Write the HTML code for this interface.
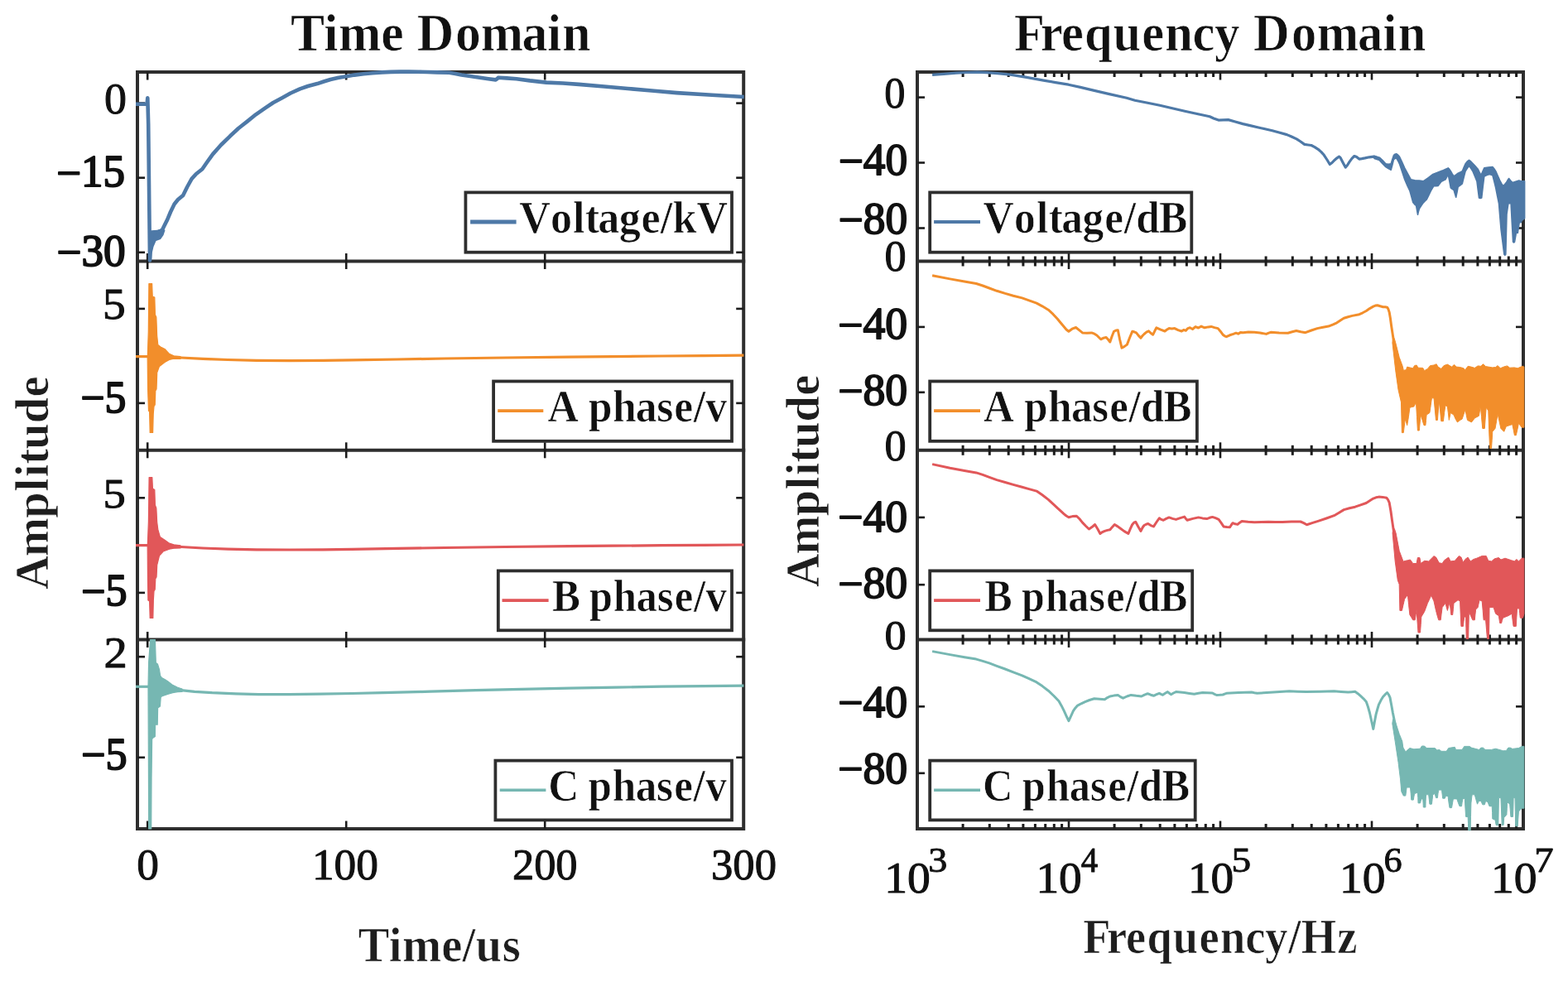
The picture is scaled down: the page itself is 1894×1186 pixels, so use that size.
<!DOCTYPE html>
<html lang="en">
<head>
<meta charset="utf-8">
<title>Time Domain and Frequency Domain</title>
<style>
html,body{margin:0;padding:0;background:#fff;}
body{width:1894px;height:1186px;overflow:hidden;}
svg{display:block;filter:blur(0.65px);}
svg text{font-family:"Liberation Serif","DejaVu Serif",serif;stroke-linejoin:round;}
</style>
</head>
<body>
<svg width="1894" height="1186" viewBox="0 0 1894 1186">
<rect x="0" y="0" width="1894" height="1186" fill="#ffffff"/>
<g id="axes">
<g fill="none" stroke="#2e2e2e" stroke-width="4.0" stroke-linecap="square">
<rect x="166.0" y="87.0" width="732.2" height="914.0"/>
<line x1="166.0" y1="315.5" x2="898.2" y2="315.5"/>
<line x1="166.0" y1="543.8" x2="898.2" y2="543.8"/>
<line x1="166.0" y1="772.5" x2="898.2" y2="772.5"/>
</g>
<g fill="none" stroke="#2e2e2e" stroke-width="4.0" stroke-linecap="square">
<rect x="1108.0" y="87.0" width="732.0" height="914.0"/>
<line x1="1108.0" y1="315.5" x2="1840.0" y2="315.5"/>
<line x1="1108.0" y1="543.8" x2="1840.0" y2="543.8"/>
<line x1="1108.0" y1="772.5" x2="1840.0" y2="772.5"/>
</g>
<g stroke="#1c1c1c" stroke-width="2.60">
<line x1="178.2" y1="87.0" x2="178.2" y2="96.5"/>
<line x1="178.2" y1="306.0" x2="178.2" y2="325.0"/>
<line x1="178.2" y1="534.3" x2="178.2" y2="553.3"/>
<line x1="178.2" y1="763.0" x2="178.2" y2="782.0"/>
<line x1="178.2" y1="991.5" x2="178.2" y2="1001.0"/>
<line x1="418.2" y1="87.0" x2="418.2" y2="96.5"/>
<line x1="418.2" y1="306.0" x2="418.2" y2="325.0"/>
<line x1="418.2" y1="534.3" x2="418.2" y2="553.3"/>
<line x1="418.2" y1="763.0" x2="418.2" y2="782.0"/>
<line x1="418.2" y1="991.5" x2="418.2" y2="1001.0"/>
<line x1="658.2" y1="87.0" x2="658.2" y2="96.5"/>
<line x1="658.2" y1="306.0" x2="658.2" y2="325.0"/>
<line x1="658.2" y1="534.3" x2="658.2" y2="553.3"/>
<line x1="658.2" y1="763.0" x2="658.2" y2="782.0"/>
<line x1="658.2" y1="991.5" x2="658.2" y2="1001.0"/>
</g>
<g stroke="#1c1c1c" stroke-width="2.60">
<line x1="166.0" y1="124.6" x2="175.0" y2="124.6"/>
<line x1="889.2" y1="124.6" x2="898.2" y2="124.6"/>
<line x1="166.0" y1="214.7" x2="175.0" y2="214.7"/>
<line x1="889.2" y1="214.7" x2="898.2" y2="214.7"/>
<line x1="166.0" y1="304.8" x2="175.0" y2="304.8"/>
<line x1="889.2" y1="304.8" x2="898.2" y2="304.8"/>
<line x1="166.0" y1="372.9" x2="175.0" y2="372.9"/>
<line x1="889.2" y1="372.9" x2="898.2" y2="372.9"/>
<line x1="166.0" y1="486.9" x2="175.0" y2="486.9"/>
<line x1="889.2" y1="486.9" x2="898.2" y2="486.9"/>
<line x1="166.0" y1="601.3" x2="175.0" y2="601.3"/>
<line x1="889.2" y1="601.3" x2="898.2" y2="601.3"/>
<line x1="166.0" y1="715.9" x2="175.0" y2="715.9"/>
<line x1="889.2" y1="715.9" x2="898.2" y2="715.9"/>
<line x1="166.0" y1="793.2" x2="175.0" y2="793.2"/>
<line x1="889.2" y1="793.2" x2="898.2" y2="793.2"/>
<line x1="166.0" y1="914.8" x2="175.0" y2="914.8"/>
<line x1="889.2" y1="914.8" x2="898.2" y2="914.8"/>
</g>
<g stroke="#1c1c1c" stroke-width="3.00">
<line x1="1163.1" y1="87.0" x2="1163.1" y2="93.0"/>
<line x1="1163.1" y1="309.5" x2="1163.1" y2="321.5"/>
<line x1="1163.1" y1="537.8" x2="1163.1" y2="549.8"/>
<line x1="1163.1" y1="766.5" x2="1163.1" y2="778.5"/>
<line x1="1163.1" y1="995.0" x2="1163.1" y2="1001.0"/>
<line x1="1195.3" y1="87.0" x2="1195.3" y2="93.0"/>
<line x1="1195.3" y1="309.5" x2="1195.3" y2="321.5"/>
<line x1="1195.3" y1="537.8" x2="1195.3" y2="549.8"/>
<line x1="1195.3" y1="766.5" x2="1195.3" y2="778.5"/>
<line x1="1195.3" y1="995.0" x2="1195.3" y2="1001.0"/>
<line x1="1218.2" y1="87.0" x2="1218.2" y2="93.0"/>
<line x1="1218.2" y1="309.5" x2="1218.2" y2="321.5"/>
<line x1="1218.2" y1="537.8" x2="1218.2" y2="549.8"/>
<line x1="1218.2" y1="766.5" x2="1218.2" y2="778.5"/>
<line x1="1218.2" y1="995.0" x2="1218.2" y2="1001.0"/>
<line x1="1235.9" y1="87.0" x2="1235.9" y2="93.0"/>
<line x1="1235.9" y1="309.5" x2="1235.9" y2="321.5"/>
<line x1="1235.9" y1="537.8" x2="1235.9" y2="549.8"/>
<line x1="1235.9" y1="766.5" x2="1235.9" y2="778.5"/>
<line x1="1235.9" y1="995.0" x2="1235.9" y2="1001.0"/>
<line x1="1250.4" y1="87.0" x2="1250.4" y2="93.0"/>
<line x1="1250.4" y1="309.5" x2="1250.4" y2="321.5"/>
<line x1="1250.4" y1="537.8" x2="1250.4" y2="549.8"/>
<line x1="1250.4" y1="766.5" x2="1250.4" y2="778.5"/>
<line x1="1250.4" y1="995.0" x2="1250.4" y2="1001.0"/>
<line x1="1262.7" y1="87.0" x2="1262.7" y2="93.0"/>
<line x1="1262.7" y1="309.5" x2="1262.7" y2="321.5"/>
<line x1="1262.7" y1="537.8" x2="1262.7" y2="549.8"/>
<line x1="1262.7" y1="766.5" x2="1262.7" y2="778.5"/>
<line x1="1262.7" y1="995.0" x2="1262.7" y2="1001.0"/>
<line x1="1273.3" y1="87.0" x2="1273.3" y2="93.0"/>
<line x1="1273.3" y1="309.5" x2="1273.3" y2="321.5"/>
<line x1="1273.3" y1="537.8" x2="1273.3" y2="549.8"/>
<line x1="1273.3" y1="766.5" x2="1273.3" y2="778.5"/>
<line x1="1273.3" y1="995.0" x2="1273.3" y2="1001.0"/>
<line x1="1282.6" y1="87.0" x2="1282.6" y2="93.0"/>
<line x1="1282.6" y1="309.5" x2="1282.6" y2="321.5"/>
<line x1="1282.6" y1="537.8" x2="1282.6" y2="549.8"/>
<line x1="1282.6" y1="766.5" x2="1282.6" y2="778.5"/>
<line x1="1282.6" y1="995.0" x2="1282.6" y2="1001.0"/>
<line x1="1346.1" y1="87.0" x2="1346.1" y2="93.0"/>
<line x1="1346.1" y1="309.5" x2="1346.1" y2="321.5"/>
<line x1="1346.1" y1="537.8" x2="1346.1" y2="549.8"/>
<line x1="1346.1" y1="766.5" x2="1346.1" y2="778.5"/>
<line x1="1346.1" y1="995.0" x2="1346.1" y2="1001.0"/>
<line x1="1378.3" y1="87.0" x2="1378.3" y2="93.0"/>
<line x1="1378.3" y1="309.5" x2="1378.3" y2="321.5"/>
<line x1="1378.3" y1="537.8" x2="1378.3" y2="549.8"/>
<line x1="1378.3" y1="766.5" x2="1378.3" y2="778.5"/>
<line x1="1378.3" y1="995.0" x2="1378.3" y2="1001.0"/>
<line x1="1401.2" y1="87.0" x2="1401.2" y2="93.0"/>
<line x1="1401.2" y1="309.5" x2="1401.2" y2="321.5"/>
<line x1="1401.2" y1="537.8" x2="1401.2" y2="549.8"/>
<line x1="1401.2" y1="766.5" x2="1401.2" y2="778.5"/>
<line x1="1401.2" y1="995.0" x2="1401.2" y2="1001.0"/>
<line x1="1418.9" y1="87.0" x2="1418.9" y2="93.0"/>
<line x1="1418.9" y1="309.5" x2="1418.9" y2="321.5"/>
<line x1="1418.9" y1="537.8" x2="1418.9" y2="549.8"/>
<line x1="1418.9" y1="766.5" x2="1418.9" y2="778.5"/>
<line x1="1418.9" y1="995.0" x2="1418.9" y2="1001.0"/>
<line x1="1433.4" y1="87.0" x2="1433.4" y2="93.0"/>
<line x1="1433.4" y1="309.5" x2="1433.4" y2="321.5"/>
<line x1="1433.4" y1="537.8" x2="1433.4" y2="549.8"/>
<line x1="1433.4" y1="766.5" x2="1433.4" y2="778.5"/>
<line x1="1433.4" y1="995.0" x2="1433.4" y2="1001.0"/>
<line x1="1445.7" y1="87.0" x2="1445.7" y2="93.0"/>
<line x1="1445.7" y1="309.5" x2="1445.7" y2="321.5"/>
<line x1="1445.7" y1="537.8" x2="1445.7" y2="549.8"/>
<line x1="1445.7" y1="766.5" x2="1445.7" y2="778.5"/>
<line x1="1445.7" y1="995.0" x2="1445.7" y2="1001.0"/>
<line x1="1456.3" y1="87.0" x2="1456.3" y2="93.0"/>
<line x1="1456.3" y1="309.5" x2="1456.3" y2="321.5"/>
<line x1="1456.3" y1="537.8" x2="1456.3" y2="549.8"/>
<line x1="1456.3" y1="766.5" x2="1456.3" y2="778.5"/>
<line x1="1456.3" y1="995.0" x2="1456.3" y2="1001.0"/>
<line x1="1465.6" y1="87.0" x2="1465.6" y2="93.0"/>
<line x1="1465.6" y1="309.5" x2="1465.6" y2="321.5"/>
<line x1="1465.6" y1="537.8" x2="1465.6" y2="549.8"/>
<line x1="1465.6" y1="766.5" x2="1465.6" y2="778.5"/>
<line x1="1465.6" y1="995.0" x2="1465.6" y2="1001.0"/>
<line x1="1529.1" y1="87.0" x2="1529.1" y2="93.0"/>
<line x1="1529.1" y1="309.5" x2="1529.1" y2="321.5"/>
<line x1="1529.1" y1="537.8" x2="1529.1" y2="549.8"/>
<line x1="1529.1" y1="766.5" x2="1529.1" y2="778.5"/>
<line x1="1529.1" y1="995.0" x2="1529.1" y2="1001.0"/>
<line x1="1561.3" y1="87.0" x2="1561.3" y2="93.0"/>
<line x1="1561.3" y1="309.5" x2="1561.3" y2="321.5"/>
<line x1="1561.3" y1="537.8" x2="1561.3" y2="549.8"/>
<line x1="1561.3" y1="766.5" x2="1561.3" y2="778.5"/>
<line x1="1561.3" y1="995.0" x2="1561.3" y2="1001.0"/>
<line x1="1584.2" y1="87.0" x2="1584.2" y2="93.0"/>
<line x1="1584.2" y1="309.5" x2="1584.2" y2="321.5"/>
<line x1="1584.2" y1="537.8" x2="1584.2" y2="549.8"/>
<line x1="1584.2" y1="766.5" x2="1584.2" y2="778.5"/>
<line x1="1584.2" y1="995.0" x2="1584.2" y2="1001.0"/>
<line x1="1601.9" y1="87.0" x2="1601.9" y2="93.0"/>
<line x1="1601.9" y1="309.5" x2="1601.9" y2="321.5"/>
<line x1="1601.9" y1="537.8" x2="1601.9" y2="549.8"/>
<line x1="1601.9" y1="766.5" x2="1601.9" y2="778.5"/>
<line x1="1601.9" y1="995.0" x2="1601.9" y2="1001.0"/>
<line x1="1616.4" y1="87.0" x2="1616.4" y2="93.0"/>
<line x1="1616.4" y1="309.5" x2="1616.4" y2="321.5"/>
<line x1="1616.4" y1="537.8" x2="1616.4" y2="549.8"/>
<line x1="1616.4" y1="766.5" x2="1616.4" y2="778.5"/>
<line x1="1616.4" y1="995.0" x2="1616.4" y2="1001.0"/>
<line x1="1628.7" y1="87.0" x2="1628.7" y2="93.0"/>
<line x1="1628.7" y1="309.5" x2="1628.7" y2="321.5"/>
<line x1="1628.7" y1="537.8" x2="1628.7" y2="549.8"/>
<line x1="1628.7" y1="766.5" x2="1628.7" y2="778.5"/>
<line x1="1628.7" y1="995.0" x2="1628.7" y2="1001.0"/>
<line x1="1639.3" y1="87.0" x2="1639.3" y2="93.0"/>
<line x1="1639.3" y1="309.5" x2="1639.3" y2="321.5"/>
<line x1="1639.3" y1="537.8" x2="1639.3" y2="549.8"/>
<line x1="1639.3" y1="766.5" x2="1639.3" y2="778.5"/>
<line x1="1639.3" y1="995.0" x2="1639.3" y2="1001.0"/>
<line x1="1648.6" y1="87.0" x2="1648.6" y2="93.0"/>
<line x1="1648.6" y1="309.5" x2="1648.6" y2="321.5"/>
<line x1="1648.6" y1="537.8" x2="1648.6" y2="549.8"/>
<line x1="1648.6" y1="766.5" x2="1648.6" y2="778.5"/>
<line x1="1648.6" y1="995.0" x2="1648.6" y2="1001.0"/>
<line x1="1712.1" y1="87.0" x2="1712.1" y2="93.0"/>
<line x1="1712.1" y1="309.5" x2="1712.1" y2="321.5"/>
<line x1="1712.1" y1="537.8" x2="1712.1" y2="549.8"/>
<line x1="1712.1" y1="766.5" x2="1712.1" y2="778.5"/>
<line x1="1712.1" y1="995.0" x2="1712.1" y2="1001.0"/>
<line x1="1744.3" y1="87.0" x2="1744.3" y2="93.0"/>
<line x1="1744.3" y1="309.5" x2="1744.3" y2="321.5"/>
<line x1="1744.3" y1="537.8" x2="1744.3" y2="549.8"/>
<line x1="1744.3" y1="766.5" x2="1744.3" y2="778.5"/>
<line x1="1744.3" y1="995.0" x2="1744.3" y2="1001.0"/>
<line x1="1767.2" y1="87.0" x2="1767.2" y2="93.0"/>
<line x1="1767.2" y1="309.5" x2="1767.2" y2="321.5"/>
<line x1="1767.2" y1="537.8" x2="1767.2" y2="549.8"/>
<line x1="1767.2" y1="766.5" x2="1767.2" y2="778.5"/>
<line x1="1767.2" y1="995.0" x2="1767.2" y2="1001.0"/>
<line x1="1784.9" y1="87.0" x2="1784.9" y2="93.0"/>
<line x1="1784.9" y1="309.5" x2="1784.9" y2="321.5"/>
<line x1="1784.9" y1="537.8" x2="1784.9" y2="549.8"/>
<line x1="1784.9" y1="766.5" x2="1784.9" y2="778.5"/>
<line x1="1784.9" y1="995.0" x2="1784.9" y2="1001.0"/>
<line x1="1799.4" y1="87.0" x2="1799.4" y2="93.0"/>
<line x1="1799.4" y1="309.5" x2="1799.4" y2="321.5"/>
<line x1="1799.4" y1="537.8" x2="1799.4" y2="549.8"/>
<line x1="1799.4" y1="766.5" x2="1799.4" y2="778.5"/>
<line x1="1799.4" y1="995.0" x2="1799.4" y2="1001.0"/>
<line x1="1811.7" y1="87.0" x2="1811.7" y2="93.0"/>
<line x1="1811.7" y1="309.5" x2="1811.7" y2="321.5"/>
<line x1="1811.7" y1="537.8" x2="1811.7" y2="549.8"/>
<line x1="1811.7" y1="766.5" x2="1811.7" y2="778.5"/>
<line x1="1811.7" y1="995.0" x2="1811.7" y2="1001.0"/>
<line x1="1822.3" y1="87.0" x2="1822.3" y2="93.0"/>
<line x1="1822.3" y1="309.5" x2="1822.3" y2="321.5"/>
<line x1="1822.3" y1="537.8" x2="1822.3" y2="549.8"/>
<line x1="1822.3" y1="766.5" x2="1822.3" y2="778.5"/>
<line x1="1822.3" y1="995.0" x2="1822.3" y2="1001.0"/>
<line x1="1831.6" y1="87.0" x2="1831.6" y2="93.0"/>
<line x1="1831.6" y1="309.5" x2="1831.6" y2="321.5"/>
<line x1="1831.6" y1="537.8" x2="1831.6" y2="549.8"/>
<line x1="1831.6" y1="766.5" x2="1831.6" y2="778.5"/>
<line x1="1831.6" y1="995.0" x2="1831.6" y2="1001.0"/>
</g>
<g stroke="#1c1c1c" stroke-width="2.60">
<line x1="1291.0" y1="87.0" x2="1291.0" y2="96.5"/>
<line x1="1291.0" y1="306.0" x2="1291.0" y2="325.0"/>
<line x1="1291.0" y1="534.3" x2="1291.0" y2="553.3"/>
<line x1="1291.0" y1="763.0" x2="1291.0" y2="782.0"/>
<line x1="1291.0" y1="991.5" x2="1291.0" y2="1001.0"/>
<line x1="1474.0" y1="87.0" x2="1474.0" y2="96.5"/>
<line x1="1474.0" y1="306.0" x2="1474.0" y2="325.0"/>
<line x1="1474.0" y1="534.3" x2="1474.0" y2="553.3"/>
<line x1="1474.0" y1="763.0" x2="1474.0" y2="782.0"/>
<line x1="1474.0" y1="991.5" x2="1474.0" y2="1001.0"/>
<line x1="1657.0" y1="87.0" x2="1657.0" y2="96.5"/>
<line x1="1657.0" y1="306.0" x2="1657.0" y2="325.0"/>
<line x1="1657.0" y1="534.3" x2="1657.0" y2="553.3"/>
<line x1="1657.0" y1="763.0" x2="1657.0" y2="782.0"/>
<line x1="1657.0" y1="991.5" x2="1657.0" y2="1001.0"/>
</g>
<g stroke="#1c1c1c" stroke-width="2.60">
<line x1="1108.0" y1="117.6" x2="1117.0" y2="117.6"/>
<line x1="1831.0" y1="117.6" x2="1840.0" y2="117.6"/>
<line x1="1108.0" y1="196.5" x2="1117.0" y2="196.5"/>
<line x1="1831.0" y1="196.5" x2="1840.0" y2="196.5"/>
<line x1="1108.0" y1="275.5" x2="1117.0" y2="275.5"/>
<line x1="1831.0" y1="275.5" x2="1840.0" y2="275.5"/>
<line x1="1108.0" y1="394.9" x2="1117.0" y2="394.9"/>
<line x1="1831.0" y1="394.9" x2="1840.0" y2="394.9"/>
<line x1="1108.0" y1="473.8" x2="1117.0" y2="473.8"/>
<line x1="1831.0" y1="473.8" x2="1840.0" y2="473.8"/>
<line x1="1108.0" y1="624.9" x2="1117.0" y2="624.9"/>
<line x1="1831.0" y1="624.9" x2="1840.0" y2="624.9"/>
<line x1="1108.0" y1="706.2" x2="1117.0" y2="706.2"/>
<line x1="1831.0" y1="706.2" x2="1840.0" y2="706.2"/>
<line x1="1108.0" y1="853.3" x2="1117.0" y2="853.3"/>
<line x1="1831.0" y1="853.3" x2="1840.0" y2="853.3"/>
<line x1="1108.0" y1="933.8" x2="1117.0" y2="933.8"/>
<line x1="1831.0" y1="933.8" x2="1840.0" y2="933.8"/>
</g>
</g>
<g id="data" fill="none" stroke-linejoin="round" stroke-linecap="butt">
<polygon points="180.2,281.0 183.0,278.2 190.0,277.8 196.0,276.0 199.5,278.0 197.5,284.0 194.0,289.0 188.5,291.0 185.5,298.0 183.6,306.0 183.0,315.0 179.8,315.0" fill="#4E79A7" stroke="none"/>
<polyline points="164.0,125.7 177.6,125.7 178.3,118.2 179.2,150.0 181.0,314.5 181.6,300.0 183.2,284.0 186.0,281.0 190.0,280.5 195.8,278.0 199.0,271.5 202.1,265.4 206.0,256.0 210.6,246.5 215.0,241.0 221.1,235.9 226.0,226.0 231.6,215.9 237.0,210.0 244.3,204.3 250.0,196.0 256.9,186.4 267.0,175.0 278.0,164.3 288.0,155.0 299.0,146.4 309.0,138.3 320.1,130.6 330.0,124.0 341.2,117.9 351.0,112.5 362.3,107.4 372.0,104.0 383.3,101.1 391.0,98.5 399.2,96.0 408.0,94.0 418.4,92.2 428.0,90.6 439.1,89.2 450.0,88.2 461.3,87.4 472.0,86.9 483.5,86.6 494.0,86.6 505.7,86.7 516.0,87.0 527.8,87.4 542.6,87.8 550.0,89.0 557.4,90.4 568.0,92.0 579.6,93.7 590.0,95.2 598.8,96.4 600.5,95.2 601.8,93.8 612.0,94.4 623.9,95.2 640.0,97.4 660.0,99.6 680.0,100.5 699.1,101.9 730.0,104.5 758.3,107.0 790.0,109.8 817.4,112.1 860.0,114.8 898.7,117.0" stroke="#4E79A7" stroke-width="4.6"/>
<polyline points="164.0,430.6 179.0,430.6" stroke="#F28E2B" stroke-width="3.2"/>
<polygon points="178.3,430.6 179.3,400.0 179.9,342.5 183.6,342.5 184.2,358.0 186.8,359.0 187.4,380.0 188.8,383.0 189.6,405.0 190.8,416.5 194.0,419.0 199.0,421.5 204.5,427.4 210.0,429.8 218.0,430.6 218.0,433.4 210.0,433.2 204.5,434.4 199.0,437.4 192.5,442.4 189.7,450.0 189.0,470.0 187.8,472.0 187.2,489.0 186.0,490.7 185.2,500.0 184.6,522.5 181.2,522.5 180.6,497.0 179.5,496.3 178.6,470.0 178.2,433.0" fill="#F28E2B" stroke="#F28E2B" stroke-width="1.2"/>
<polyline points="212.0,432.0 218.7,432.0 245.0,433.4 275.0,434.5 310.0,435.3 350.0,435.6 390.0,435.4 424.9,434.9 480.0,434.0 537.3,433.0 610.0,432.0 687.3,431.1 740.0,430.6 799.7,430.0 850.0,429.6 898.4,429.2" stroke="#F28E2B" stroke-width="3.2"/>
<polyline points="164.0,658.6 179.0,658.6" stroke="#E15759" stroke-width="3.2"/>
<polygon points="178.3,658.6 179.4,630.0 180.1,576.6 183.8,576.6 184.4,590.0 186.8,591.4 187.4,610.0 188.8,613.6 189.6,630.0 190.8,639.6 193.4,648.6 199.0,652.2 204.5,656.2 210.0,657.8 218.0,658.8 218.0,662.0 210.0,662.2 204.5,663.2 197.1,666.0 192.5,671.2 189.7,682.3 189.0,697.0 187.8,699.0 187.2,712.0 186.0,713.8 185.3,725.0 184.8,746.5 181.2,746.5 180.6,726.0 178.9,725.0 178.5,700.0 178.2,661.0" fill="#E15759" stroke="#E15759" stroke-width="1.2"/>
<polyline points="212.0,660.4 218.7,660.5 245.0,662.0 275.0,663.1 310.0,663.8 350.0,664.0 390.0,663.8 425.0,663.3 480.0,662.4 537.0,661.5 610.0,660.5 687.0,659.7 740.0,659.2 800.0,658.7 850.0,658.3 898.4,658.0" stroke="#E15759" stroke-width="3.2"/>
<polyline points="164.0,829.3 179.0,829.3" stroke="#76B7B2" stroke-width="3.2"/>
<polygon points="179.0,829.3 179.6,800.0 181.6,772.5 187.4,772.5 188.3,800.4 190.4,802.0 192.4,808.4 193.6,816.0 195.4,818.6 199.0,820.5 202.5,822.8 208.6,827.4 214.6,830.2 220.0,832.0 220.0,835.4 214.6,835.6 208.6,836.6 202.5,838.4 196.0,840.6 194.2,842.0 193.4,853.0 190.6,855.0 190.2,875.2 187.5,875.2 187.3,889.4 184.3,891.4 183.6,893.0 183.0,940.0 182.7,1001.0 179.7,1001.0 179.3,900.0 179.0,832.0" fill="#76B7B2" stroke="#76B7B2" stroke-width="1.2"/>
<polyline points="212.0,833.7 218.7,833.7 235.0,835.3 256.2,836.7 285.0,837.9 312.4,838.6 350.0,838.6 387.4,838.2 425.0,837.5 462.4,836.7 520.0,835.2 574.8,833.7 630.0,832.4 687.3,831.1 745.0,830.1 799.7,829.2 850.0,828.6 898.4,828.1" stroke="#76B7B2" stroke-width="3.2"/>
<polyline points="1126.1,90.3 1140.0,89.3 1155.0,88.2 1168.0,87.5 1180.3,87.2 1192.0,87.6 1205.0,88.6 1220.4,90.2 1240.0,93.4 1260.5,97.1 1275.0,99.6 1290.6,102.2 1305.0,105.4 1320.7,109.1 1340.0,113.6 1360.8,118.2 1370.9,121.2 1385.0,124.0 1401.0,127.2 1416.0,130.8 1431.1,134.2 1446.0,137.5 1461.2,140.8 1466.0,143.0 1471.8,145.1 1478.0,144.9 1483.6,144.6 1492.0,147.0 1501.3,149.6 1510.0,151.6 1519.0,153.7 1528.0,155.8 1536.7,157.8 1545.0,160.0 1554.4,162.6 1560.0,165.0 1566.2,167.9 1571.0,171.0 1575.7,174.4 1580.0,175.0 1583.9,175.5 1588.0,177.6 1592.2,180.3 1596.0,183.6 1599.3,187.3 1603.0,193.0 1606.3,198.5 1609.0,196.5 1612.2,193.2 1615.0,190.8 1617.6,189.1 1619.2,190.6 1620.5,193.2 1623.0,198.0 1625.2,202.1 1627.5,199.5 1629.9,195.6 1633.0,191.4 1635.9,188.5 1638.6,189.6 1641.8,192.1 1645.0,191.6 1648.8,190.9 1654.0,189.8 1659.5,189.2 1663.0,190.4" stroke="#4E79A7" stroke-width="3.2"/>
<polygon points="1660.0,188.3 1666.3,190.2 1670.0,193.6 1673.9,197.8 1677.0,198.2 1680.2,197.8 1681.8,192.5 1683.4,187.7 1685.0,186.2 1686.6,185.8 1688.5,187.0 1690.4,189.0 1693.5,195.6 1696.7,202.9 1700.5,210.0 1704.3,216.8 1709.0,217.8 1714.4,218.1 1719.5,218.7 1725.0,214.8 1730.8,210.5 1736.5,208.2 1742.2,206.1 1745.8,204.4 1749.2,202.9 1750.8,204.4 1752.3,206.7 1754.2,210.0 1756.1,213.0 1758.6,211.2 1761.2,209.2 1763.8,208.0 1766.3,206.7 1768.2,202.0 1770.1,197.8 1772.3,195.0 1774.5,193.4 1776.7,195.0 1778.9,197.2 1782.0,200.6 1785.2,204.2 1787.1,208.0 1789.0,211.7 1790.9,207.0 1792.8,202.9 1797.8,202.0 1802.9,201.6 1804.8,203.8 1806.7,206.7 1809.2,212.3 1811.8,218.1 1813.7,221.6 1815.6,224.4 1817.5,222.8 1819.4,220.6 1821.0,217.8 1822.6,215.5 1824.8,218.2 1827.0,220.6 1830.8,219.2 1834.6,218.1 1837.0,218.5 1841.6,218.7 1841.6,263.6 1838.4,266.0 1837.1,268.7 1835.2,268.7 1834.2,275.0 1833.3,281.3 1831.4,281.3 1830.5,286.5 1829.5,292.1 1828.6,293.0 1827.6,292.1 1826.3,269.0 1825.1,245.9 1823.5,245.4 1821.9,245.9 1821.0,252.0 1820.0,258.6 1819.4,283.0 1818.8,307.3 1817.9,308.3 1816.9,307.3 1815.0,292.5 1813.1,277.5 1811.8,262.0 1810.5,245.9 1808.6,236.5 1806.7,226.9 1804.8,219.0 1802.9,211.7 1799.2,210.5 1796.0,211.5 1792.8,213.0 1791.2,226.0 1789.7,238.9 1788.1,239.4 1786.5,238.9 1785.2,229.0 1784.0,219.3 1781.5,213.0 1778.9,206.7 1776.7,203.4 1774.5,200.4 1772.3,203.2 1770.1,206.7 1768.2,214.0 1766.3,221.9 1763.8,223.8 1761.2,225.7 1760.0,232.0 1758.7,238.3 1757.4,234.0 1756.1,229.5 1754.2,228.4 1752.3,226.9 1750.8,218.5 1749.2,210.5 1747.6,213.8 1746.0,216.8 1743.5,218.0 1741.0,219.3 1739.1,221.8 1737.2,224.4 1734.6,224.6 1732.1,224.4 1730.2,227.4 1728.3,230.7 1725.8,235.8 1723.3,240.8 1721.4,242.6 1719.5,244.6 1717.0,248.0 1714.4,252.2 1713.4,255.5 1712.5,259.2 1711.6,254.0 1710.6,248.4 1708.7,246.8 1706.8,244.6 1705.0,238.0 1703.0,230.7 1700.0,224.5 1696.7,216.8 1693.5,207.0 1690.4,197.8 1688.5,194.0 1686.6,190.9 1685.0,191.4 1683.4,192.8 1681.8,199.5 1680.2,205.2 1677.0,203.6 1673.9,201.6 1670.0,197.6 1666.3,193.6 1660.0,191.6" fill="#4E79A7" stroke="#4E79A7" stroke-width="1.6"/>
<polyline points="1126.1,332.7 1147.5,336.9 1165.0,340.0 1179.2,342.5 1187.0,345.0 1195.0,348.0 1204.0,351.3 1214.1,354.4 1224.0,357.2 1234.6,359.9 1243.0,362.8 1252.1,366.2 1259.0,369.8 1266.3,374.2 1272.0,379.4 1277.4,385.2 1281.5,390.2 1285.3,394.7 1288.0,398.0 1290.9,400.3 1295.0,397.2 1299.6,395.5 1303.5,398.6 1307.5,401.9 1313.0,402.2 1318.6,401.9 1322.0,403.2 1324.9,405.0 1327.4,407.5 1329.7,409.8 1333.0,408.2 1336.0,407.4 1338.5,410.0 1340.8,413.0 1343.2,406.0 1345.5,400.3 1348.0,399.0 1350.3,398.7 1352.6,410.0 1355.0,420.1 1358.0,418.6 1361.4,416.1 1364.5,408.0 1367.7,400.3 1370.0,400.8 1372.5,401.9 1375.3,405.4 1378.0,408.2 1380.0,405.5 1382.0,403.5 1384.8,401.2 1387.5,399.8 1390.0,402.3 1392.7,404.2 1394.8,399.8 1396.9,395.8 1402.0,398.2 1407.0,400.0 1409.6,398.0 1412.1,396.6 1415.5,396.9 1418.9,396.6 1423.0,398.6 1427.3,400.0 1430.0,398.4 1432.4,399.3 1434.8,396.6 1437.4,395.8 1440.5,397.5 1444.0,394.6 1447.5,396.0 1451.0,394.1 1455.0,395.8 1459.4,394.9 1463.0,394.4 1467.0,395.6 1471.2,396.6 1474.2,400.2 1477.1,404.2 1479.3,405.8 1481.4,406.7 1485.5,404.8 1489.8,403.4 1493.0,402.2 1495.6,403.2 1498.6,401.4 1501.6,401.7 1508.0,401.0 1515.2,401.2 1522.0,402.0 1529.5,403.4 1532.5,402.1 1535.4,401.2 1545.0,402.0 1555.7,402.2 1560.8,400.7 1565.8,399.5 1571.3,400.8 1576.8,401.7 1584.0,399.0 1591.2,396.6 1598.0,395.2 1604.7,394.1 1609.8,392.1 1614.8,389.8 1619.0,387.0 1623.3,384.3 1628.3,382.7 1633.4,381.4 1641.9,379.7 1646.0,377.8 1650.3,375.5 1654.5,372.6 1658.8,370.1 1661.3,369.1 1663.8,368.7 1667.2,369.8 1670.6,370.7 1673.2,370.8 1675.7,371.3 1677.0,373.6 1678.2,377.2 1679.5,385.0 1680.7,394.1 1682.4,405.0 1684.1,416.0 1685.8,424.0 1687.5,431.2 1689.5,437.0 1692.0,442.0" stroke="#F28E2B" stroke-width="3.0"/>
<polygon points="1684.2,408.7 1685.7,413.8 1690.2,431.5 1694.3,442.6 1695.3,447.3 1698.5,446.7 1699.7,443.1 1702.9,443.9 1706.7,444.8 1708.6,441.6 1711.1,441.0 1713.0,444.2 1718.7,444.4 1720.6,447.7 1724.4,445.4 1727.6,441.6 1732.0,441.0 1735.1,439.7 1737.0,443.1 1740.8,445.4 1744.0,441.6 1748.4,440.1 1751.0,441.6 1753.5,443.1 1756.6,440.4 1759.2,443.1 1763.6,443.5 1768.0,444.8 1769.9,446.7 1773.1,442.3 1776.9,443.1 1781.3,444.4 1785.1,441.9 1788.9,442.3 1791.4,439.7 1794.6,442.6 1797.8,443.1 1802.8,443.9 1806.6,443.5 1809.1,441.6 1812.3,444.8 1816.7,442.9 1820.5,441.9 1823.7,444.2 1829.4,443.9 1833.2,444.8 1837.0,443.1 1839.5,442.3 1840.9,443.1 1840.9,516.2 1838.2,516.2 1834.4,511.2 1832.9,518.8 1831.3,525.7 1829.4,525.7 1828.1,518.8 1826.8,512.5 1819.3,515.0 1816.7,521.3 1812.9,517.5 1811.0,508.7 1809.1,499.8 1807.6,508.7 1806.0,517.5 1802.8,521.3 1802.2,531.4 1801.5,541.5 1799.6,541.5 1798.6,518.8 1797.8,496.0 1795.2,492.2 1794.2,504.9 1793.3,517.5 1790.8,517.5 1789.5,503.6 1788.3,489.7 1787.4,496.0 1786.4,502.3 1781.3,504.9 1777.5,509.9 1772.5,507.4 1771.2,501.1 1769.9,494.7 1768.0,500.4 1766.1,506.1 1763.6,507.4 1760.4,509.9 1758.2,506.1 1756.0,501.1 1752.2,498.5 1750.3,507.4 1749.3,498.5 1748.4,491.0 1745.9,489.7 1744.6,498.5 1743.4,508.7 1740.8,508.7 1739.6,496.0 1738.3,484.6 1737.3,496.0 1736.4,507.4 1734.5,507.4 1733.2,493.5 1732.0,480.8 1729.4,480.8 1728.2,489.7 1726.9,498.5 1723.1,501.1 1722.5,507.4 1721.9,513.7 1720.0,513.7 1718.1,507.4 1716.2,501.1 1715.2,509.9 1714.3,520.0 1712.4,520.0 1711.5,503.6 1710.5,485.9 1707.9,491.0 1705.4,491.6 1702.9,492.2 1701.4,503.6 1699.7,513.7 1698.5,509.9 1697.2,506.1 1696.2,515.0 1695.3,522.6 1693.4,522.6 1692.5,485.9 1689.0,470.7 1685.8,447.9 1681.9,413.8 1682.6,408.7" fill="#F28E2B" stroke="#F28E2B" stroke-width="1.0"/>
<polyline points="1126.1,560.6 1147.5,565.3 1165.0,568.4 1179.2,570.9 1187.0,573.4 1195.0,576.4 1204.0,579.6 1214.1,582.5 1224.0,585.4 1234.6,588.3 1243.0,590.6 1252.1,593.1 1259.0,597.8 1266.3,603.4 1272.0,608.6 1277.4,613.7 1281.5,617.4 1285.3,620.8 1288.0,623.0 1290.9,624.7 1295.5,623.6 1300.4,623.2 1304.0,626.8 1307.5,631.1 1311.5,635.2 1315.4,639.0 1319.0,636.6 1322.6,633.5 1325.8,638.8 1328.9,644.5 1331.6,642.6 1334.4,641.4 1337.6,640.4 1340.8,639.8 1343.6,636.4 1346.3,633.5 1349.8,635.6 1353.4,638.2 1358.0,641.6 1362.9,644.5 1365.3,638.6 1367.7,633.5 1369.7,631.2 1371.7,630.3 1374.8,636.0 1378.0,641.4 1380.2,637.0 1382.0,634.5 1384.4,633.2 1386.8,632.5 1390.0,634.6 1393.5,635.9 1397.0,630.5 1400.3,625.8 1402.8,627.4 1405.3,628.3 1408.7,626.4 1412.1,624.9 1416.3,626.4 1420.5,627.4 1425.6,625.6 1430.7,624.1 1432.4,626.4 1434.1,628.3 1440.8,626.4 1447.6,624.9 1452.6,625.9 1457.7,626.6 1461.1,625.3 1464.5,624.4 1468.3,625.7 1472.1,627.4 1475.0,631.4 1478.0,635.9 1481.8,636.6 1485.6,636.7 1487.3,634.0 1489.0,631.7 1492.0,632.8 1494.9,633.4 1497.5,631.2 1500.0,629.5 1507.6,630.3 1515.2,630.8 1523.6,630.4 1532.1,630.3 1540.5,630.6 1549.0,630.5 1560.0,630.1 1570.9,630.0 1574.7,631.6 1578.5,633.7 1585.7,631.4 1592.9,629.1 1602.2,626.0 1611.5,622.7 1617.4,619.2 1623.3,615.6 1630.0,613.7 1636.8,612.2 1643.5,609.8 1650.3,607.5 1654.5,604.8 1658.8,602.1 1662.1,600.8 1665.5,600.1 1670.1,600.4 1674.8,601.3 1676.5,603.4 1678.2,607.2 1679.9,617.0 1681.6,629.1 1683.3,640.5 1685.0,651.1 1686.6,659.3 1688.3,666.3 1690.0,671.0 1692.0,675.0" stroke="#E15759" stroke-width="3.0"/>
<polygon points="1684.4,638.7 1686.1,643.8 1690.2,665.3 1694.7,677.3 1695.3,677.9 1700.4,676.7 1703.5,676.0 1706.7,680.5 1711.1,680.5 1712.4,673.5 1714.9,673.5 1716.2,680.5 1720.6,677.3 1725.7,677.9 1732.0,671.6 1734.5,672.9 1738.3,679.8 1742.1,680.5 1744.6,676.7 1749.7,673.1 1752.2,677.9 1757.3,677.3 1762.3,671.4 1764.9,672.9 1767.4,679.2 1769.9,675.4 1773.1,673.1 1776.2,677.9 1780.0,675.4 1783.8,674.2 1790.2,671.4 1795.2,671.4 1797.8,677.3 1801.5,677.9 1805.3,674.8 1810.4,673.5 1812.9,676.0 1818.0,674.2 1825.6,676.7 1829.4,677.9 1831.9,675.4 1834.4,677.9 1838.2,674.2 1840.9,674.2 1840.9,741.2 1839.5,746.2 1836.3,746.2 1835.7,740.6 1835.1,734.9 1832.5,734.9 1831.9,745.6 1831.3,756.4 1828.1,756.4 1827.1,748.8 1826.2,741.2 1821.8,743.7 1815.5,746.2 1814.4,749.4 1813.6,752.6 1811.7,752.6 1811.0,748.1 1810.4,743.7 1806.6,741.2 1804.1,733.6 1799.0,733.6 1798.8,752.6 1798.4,771.5 1796.5,771.5 1795.5,760.2 1794.6,748.8 1792.1,748.8 1791.2,737.4 1790.2,726.0 1787.0,724.7 1785.1,733.6 1782.6,736.1 1781.9,742.5 1781.3,748.8 1778.8,748.8 1776.5,743.7 1774.4,738.7 1774.0,755.1 1773.7,771.5 1771.2,771.5 1770.9,758.3 1770.6,745.0 1768.7,745.0 1768.0,750.7 1767.4,756.4 1764.9,756.4 1764.2,741.2 1763.6,726.0 1761.1,724.7 1756.0,728.5 1755.4,735.5 1754.7,742.5 1752.8,742.5 1752.0,734.9 1751.0,727.3 1749.7,732.3 1748.4,737.4 1745.9,728.5 1742.1,733.6 1741.1,741.2 1740.2,748.8 1737.7,748.8 1736.0,743.1 1734.5,737.4 1732.0,726.0 1728.8,719.1 1724.4,728.5 1720.6,738.7 1716.8,745.0 1716.2,754.5 1715.5,764.0 1713.0,764.0 1712.0,750.0 1711.1,736.1 1710.2,742.5 1709.2,748.8 1706.7,748.8 1704.8,745.6 1702.9,742.5 1701.6,730.4 1700.4,718.4 1696.6,723.5 1695.0,730.4 1693.4,737.4 1690.9,737.4 1690.2,705.8 1688.3,700.7 1685.2,677.9 1682.1,643.8 1682.9,638.7" fill="#E15759" stroke="#E15759" stroke-width="1.0"/>
<polyline points="1126.1,786.6 1147.5,790.6 1165.0,793.7 1179.2,796.1 1187.0,798.4 1195.0,800.9 1204.0,804.3 1214.1,808.0 1224.0,811.8 1234.6,815.9 1243.0,819.7 1252.1,823.9 1259.0,828.6 1266.3,834.2 1273.0,840.5 1279.0,846.8 1282.2,852.4 1285.3,858.7 1288.1,864.8 1290.9,870.6 1293.6,864.8 1296.4,858.7 1298.8,855.2 1301.2,852.4 1306.0,849.8 1310.7,847.6 1316.0,845.5 1321.8,843.7 1328.0,844.3 1334.4,844.8 1337.6,842.6 1340.8,841.0 1345.5,840.1 1350.3,839.4 1353.4,841.6 1356.6,843.2 1361.3,841.0 1366.1,839.4 1372.5,840.3 1378.8,841.0 1382.0,839.4 1385.1,838.1 1386.8,837.8 1390.0,839.2 1393.5,840.3 1397.0,838.7 1400.3,837.3 1402.4,838.4 1404.5,839.3 1407.5,837.3 1410.4,835.6 1412.5,837.2 1414.6,838.7 1417.5,837.0 1420.5,835.6 1425.6,836.1 1430.7,836.5 1436.6,837.4 1442.5,838.2 1447.6,837.3 1452.6,836.5 1458.5,836.8 1464.5,837.0 1467.0,838.3 1469.5,839.5 1473.3,839.3 1477.1,839.0 1479.3,838.1 1481.4,837.3 1496.0,836.6 1511.8,836.0 1515.2,836.7 1518.5,837.3 1538.0,836.0 1557.4,834.8 1567.5,835.2 1577.7,835.6 1594.6,835.2 1611.5,834.8 1620.0,835.5 1628.4,836.1 1632.6,835.7 1636.8,835.3 1640.2,837.7 1643.6,840.7 1647.0,843.8 1650.3,847.4 1652.4,853.5 1654.5,861.0 1656.6,870.5 1658.8,880.4 1660.4,871.5 1662.1,862.6 1663.8,856.5 1665.5,850.8 1668.0,845.8 1670.6,841.5 1673.2,838.7 1675.7,836.5 1677.4,839.0 1679.0,842.4 1680.7,851.5 1682.4,861.0 1684.5,871.4 1686.6,881.2 1688.7,888.4 1690.9,894.7 1692.5,899.0 1694.0,903.0" stroke="#76B7B2" stroke-width="3.0"/>
<polygon points="1684.2,868.7 1686.1,873.8 1690.2,886.4 1693.8,895.3 1694.7,902.6 1697.8,907.9 1702.9,903.5 1707.9,904.8 1715.5,904.2 1717.4,901.0 1720.6,901.0 1723.1,903.5 1733.2,903.5 1735.8,906.0 1738.9,905.4 1740.8,907.3 1747.2,907.3 1749.7,903.5 1757.3,902.3 1758.5,905.4 1766.1,905.4 1768.7,901.4 1775.0,901.4 1777.5,903.1 1786.4,905.4 1788.9,903.1 1791.4,903.1 1794.0,905.4 1801.5,905.4 1806.6,904.2 1815.5,906.7 1819.3,906.7 1821.8,903.1 1824.3,903.1 1826.8,904.4 1834.4,903.5 1838.2,901.4 1840.9,901.4 1840.9,976.2 1838.2,976.2 1834.4,980.0 1833.8,988.9 1833.2,997.8 1830.6,997.8 1830.4,980.7 1830.0,963.6 1828.1,963.6 1827.9,975.0 1827.5,986.4 1824.9,986.4 1824.3,978.8 1823.7,971.2 1820.5,968.7 1820.3,976.2 1819.9,983.8 1816.7,987.6 1816.1,996.5 1814.2,996.5 1813.6,980.0 1812.9,963.6 1810.4,963.6 1810.1,980.0 1809.8,996.5 1807.2,996.5 1806.0,990.2 1802.8,988.9 1802.6,981.3 1802.2,973.7 1799.0,973.7 1797.1,968.7 1794.6,967.4 1793.3,971.8 1790.8,971.8 1788.9,967.4 1786.4,967.4 1784.5,971.2 1782.8,965.5 1781.3,959.8 1778.1,959.8 1776.9,969.9 1776.5,986.4 1776.2,1002.8 1773.7,1002.8 1773.5,994.6 1773.1,986.4 1770.6,986.4 1769.9,975.0 1769.3,964.2 1766.8,964.9 1766.1,969.3 1765.5,973.7 1763.0,973.7 1761.3,969.3 1759.8,964.9 1755.4,964.9 1754.5,969.9 1753.5,975.6 1751.0,975.6 1749.9,968.7 1749.1,961.7 1746.5,961.1 1745.3,964.2 1742.7,964.2 1742.1,959.2 1741.5,954.1 1737.7,954.1 1737.0,958.5 1736.4,963.6 1734.5,963.6 1733.2,958.5 1730.7,959.8 1730.1,965.5 1729.4,971.2 1726.9,971.2 1726.3,965.5 1725.7,959.8 1722.5,959.8 1722.1,967.4 1721.9,975.0 1719.3,975.0 1719.1,969.9 1718.7,964.9 1716.8,964.9 1716.2,967.4 1715.5,969.9 1713.0,969.9 1712.8,963.6 1712.4,957.3 1708.6,958.5 1707.9,962.3 1707.3,966.1 1704.8,966.1 1704.2,958.5 1703.5,951.0 1699.1,951.0 1698.5,956.0 1697.8,961.1 1695.3,961.1 1692.8,956.0 1691.5,940.8 1689.0,920.6 1685.2,895.3 1681.8,873.8 1682.6,868.7" fill="#76B7B2" stroke="#76B7B2" stroke-width="1.0"/>
</g>
<g id="legends">
<rect x="562.4" y="232.4" width="321.6" height="72.3" fill="#ffffff" stroke="#2e2e2e" stroke-width="3.8"/>
<line x1="568.10" y1="268.00" x2="623.60" y2="268.00" stroke="#4E79A7" stroke-width="5.00" />
<rect x="596.1" y="460.5" width="287.9" height="72.3" fill="#ffffff" stroke="#2e2e2e" stroke-width="3.8"/>
<line x1="601.20" y1="496.10" x2="656.30" y2="496.10" stroke="#F28E2B" stroke-width="3.60" />
<rect x="601.8" y="689.4" width="282.2" height="71.9" fill="#ffffff" stroke="#2e2e2e" stroke-width="3.8"/>
<line x1="606.50" y1="725.10" x2="662.60" y2="725.10" stroke="#E15759" stroke-width="3.60" />
<rect x="598.4" y="918.6" width="285.6" height="71.8" fill="#ffffff" stroke="#2e2e2e" stroke-width="3.8"/>
<line x1="603.70" y1="954.20" x2="659.40" y2="954.20" stroke="#76B7B2" stroke-width="3.60" />
<rect x="1123.2" y="232.4" width="316.1" height="72.3" fill="#ffffff" stroke="#2e2e2e" stroke-width="3.8"/>
<line x1="1128.10" y1="268.00" x2="1184.00" y2="268.00" stroke="#4E79A7" stroke-width="4.20" />
<rect x="1123.2" y="460.5" width="322.7" height="72.3" fill="#ffffff" stroke="#2e2e2e" stroke-width="3.8"/>
<line x1="1128.10" y1="496.10" x2="1184.00" y2="496.10" stroke="#F28E2B" stroke-width="3.60" />
<rect x="1123.2" y="689.4" width="317.0" height="71.9" fill="#ffffff" stroke="#2e2e2e" stroke-width="3.8"/>
<line x1="1128.10" y1="725.10" x2="1184.00" y2="725.10" stroke="#E15759" stroke-width="3.60" />
<rect x="1123.2" y="918.6" width="320.5" height="71.8" fill="#ffffff" stroke="#2e2e2e" stroke-width="3.8"/>
<line x1="1128.10" y1="954.20" x2="1184.00" y2="954.20" stroke="#76B7B2" stroke-width="3.60" />
</g>
<g id="labels">
<text x="126.00" y="136.85" font-size="53.06" fill="#111111" stroke="#111111" stroke-width="1.00" textLength="26.97" lengthAdjust="spacingAndGlyphs">0</text>
<text x="68.20" y="225.40" font-size="54.18" fill="#111111" stroke="#111111" stroke-width="1.90" textLength="82.86" lengthAdjust="spacingAndGlyphs"><tspan dy="1.5">−</tspan><tspan dy="-1.5">15</tspan></text>
<text x="68.40" y="321.40" font-size="54.48" fill="#111111" stroke="#111111" stroke-width="1.90" textLength="83.31" lengthAdjust="spacingAndGlyphs"><tspan dy="1.5">−</tspan><tspan dy="-1.5">30</tspan></text>
<text x="124.10" y="384.50" font-size="52.77" fill="#111111" stroke="#111111" stroke-width="1.00" textLength="27.74" lengthAdjust="spacingAndGlyphs">5</text>
<text x="97.25" y="497.90" font-size="54.93" fill="#111111" stroke="#111111" stroke-width="1.90" textLength="55.03" lengthAdjust="spacingAndGlyphs"><tspan dy="1.5">−</tspan><tspan dy="-1.5">5</tspan></text>
<text x="124.55" y="613.15" font-size="51.57" fill="#111111" stroke="#111111" stroke-width="1.00" textLength="27.26" lengthAdjust="spacingAndGlyphs">5</text>
<text x="98.10" y="731.20" font-size="55.75" fill="#111111" stroke="#111111" stroke-width="1.90" textLength="55.49" lengthAdjust="spacingAndGlyphs"><tspan dy="1.5">−</tspan><tspan dy="-1.5">5</tspan></text>
<text x="125.50" y="806.15" font-size="52.25" fill="#111111" stroke="#111111" stroke-width="1.00" textLength="28.27" lengthAdjust="spacingAndGlyphs">2</text>
<text x="98.10" y="928.70" font-size="55.53" fill="#111111" stroke="#111111" stroke-width="1.90" textLength="55.49" lengthAdjust="spacingAndGlyphs"><tspan dy="1.5">−</tspan><tspan dy="-1.5">5</tspan></text>
<text x="1068.30" y="129.85" font-size="52.09" fill="#111111" stroke="#111111" stroke-width="1.00" textLength="25.21" lengthAdjust="spacingAndGlyphs">0</text>
<text x="1012.70" y="211.20" font-size="55.00" fill="#111111" stroke="#111111" stroke-width="1.90" textLength="83.51" lengthAdjust="spacingAndGlyphs"><tspan dy="1.5">−</tspan><tspan dy="-1.5">40</tspan></text>
<text x="1012.70" y="282.40" font-size="54.71" fill="#111111" stroke="#111111" stroke-width="1.90" textLength="83.51" lengthAdjust="spacingAndGlyphs"><tspan dy="1.5">−</tspan><tspan dy="-1.5">80</tspan></text>
<text x="1068.45" y="327.00" font-size="51.79" fill="#111111" stroke="#111111" stroke-width="1.00" textLength="26.17" lengthAdjust="spacingAndGlyphs">0</text>
<text x="1012.20" y="409.20" font-size="54.48" fill="#111111" stroke="#111111" stroke-width="1.90" textLength="84.01" lengthAdjust="spacingAndGlyphs"><tspan dy="1.5">−</tspan><tspan dy="-1.5">40</tspan></text>
<text x="1012.20" y="488.75" font-size="54.04" fill="#111111" stroke="#111111" stroke-width="1.90" textLength="84.01" lengthAdjust="spacingAndGlyphs"><tspan dy="1.5">−</tspan><tspan dy="-1.5">80</tspan></text>
<text x="1068.45" y="556.00" font-size="51.79" fill="#111111" stroke="#111111" stroke-width="1.00" textLength="26.17" lengthAdjust="spacingAndGlyphs">0</text>
<text x="1012.20" y="641.90" font-size="54.48" fill="#111111" stroke="#111111" stroke-width="1.90" textLength="84.01" lengthAdjust="spacingAndGlyphs"><tspan dy="1.5">−</tspan><tspan dy="-1.5">40</tspan></text>
<text x="1012.20" y="721.55" font-size="54.04" fill="#111111" stroke="#111111" stroke-width="1.90" textLength="84.01" lengthAdjust="spacingAndGlyphs"><tspan dy="1.5">−</tspan><tspan dy="-1.5">80</tspan></text>
<text x="1068.45" y="784.35" font-size="51.35" fill="#111111" stroke="#111111" stroke-width="1.00" textLength="26.17" lengthAdjust="spacingAndGlyphs">0</text>
<text x="1012.20" y="865.90" font-size="54.48" fill="#111111" stroke="#111111" stroke-width="1.90" textLength="84.01" lengthAdjust="spacingAndGlyphs"><tspan dy="1.5">−</tspan><tspan dy="-1.5">40</tspan></text>
<text x="1012.20" y="945.75" font-size="54.26" fill="#111111" stroke="#111111" stroke-width="1.90" textLength="84.01" lengthAdjust="spacingAndGlyphs"><tspan dy="1.5">−</tspan><tspan dy="-1.5">80</tspan></text>
<text x="165.15" y="1062.15" font-size="52.54" fill="#111111" stroke="#111111" stroke-width="1.00" textLength="26.67" lengthAdjust="spacingAndGlyphs">0</text>
<text x="376.90" y="1061.85" font-size="52.09" fill="#111111" stroke="#111111" stroke-width="1.00" textLength="80.07" lengthAdjust="spacingAndGlyphs">100</text>
<text x="618.95" y="1061.85" font-size="52.09" fill="#111111" stroke="#111111" stroke-width="1.00" textLength="78.65" lengthAdjust="spacingAndGlyphs">200</text>
<text x="859.00" y="1062.15" font-size="52.54" fill="#111111" stroke="#111111" stroke-width="1.00" textLength="78.96" lengthAdjust="spacingAndGlyphs">300</text>
<text x="1068.15" y="1078.20" font-size="52.09" fill="#111111" stroke="#111111" stroke-width="1.00" textLength="55.52" lengthAdjust="spacingAndGlyphs">10</text>
<text x="1121.25" y="1052.95" font-size="42.17" fill="#111111" stroke="#111111" stroke-width="0.90" textLength="23.01" lengthAdjust="spacingAndGlyphs">3</text>
<text x="1251.45" y="1078.20" font-size="52.09" fill="#111111" stroke="#111111" stroke-width="1.00" textLength="55.27" lengthAdjust="spacingAndGlyphs">10</text>
<text x="1305.80" y="1052.55" font-size="42.93" fill="#111111" stroke="#111111" stroke-width="0.90" textLength="20.49" lengthAdjust="spacingAndGlyphs">4</text>
<text x="1434.95" y="1078.20" font-size="52.09" fill="#111111" stroke="#111111" stroke-width="1.00" textLength="55.27" lengthAdjust="spacingAndGlyphs">10</text>
<text x="1487.55" y="1052.95" font-size="42.55" fill="#111111" stroke="#111111" stroke-width="0.90" textLength="23.66" lengthAdjust="spacingAndGlyphs">5</text>
<text x="1618.10" y="1078.20" font-size="52.09" fill="#111111" stroke="#111111" stroke-width="1.00" textLength="55.52" lengthAdjust="spacingAndGlyphs">10</text>
<text x="1671.45" y="1052.95" font-size="42.17" fill="#111111" stroke="#111111" stroke-width="0.90" textLength="22.13" lengthAdjust="spacingAndGlyphs">6</text>
<text x="1801.10" y="1078.20" font-size="52.09" fill="#111111" stroke="#111111" stroke-width="1.00" textLength="55.52" lengthAdjust="spacingAndGlyphs">10</text>
<text x="1853.20" y="1052.55" font-size="42.93" fill="#111111" stroke="#111111" stroke-width="0.90" textLength="23.37" lengthAdjust="spacingAndGlyphs">7</text>
<text transform="translate(352.55,60.60) scale(0.9609,1)" x="-1.68 40.33 58.63 112.14 140.51 157.36 205.51 237.52 289.23 320.96 339.92" y="0" font-size="64.12" font-weight="bold" fill="#111111" stroke="#ffffff" stroke-width="0.70">Time Domain</text>
<text transform="translate(1227.70,60.60) scale(0.9423,1)" x="-2.89 30.83 57.52 87.28 123.96 160.92 190.67 225.95 254.17 286.38 303.76 352.58 385.29 437.66 469.79 489.21" y="0" font-size="64.12" font-weight="bold" fill="#111111" stroke="#ffffff" stroke-width="0.70">Frequency Domain</text>
<text transform="translate(434.10,1161.20) scale(0.9753,1)" x="-1.53 36.53 53.09 101.56 127.67 143.85 176.93" y="0" font-size="58.09" font-weight="bold" fill="#1e1e1e" stroke="#ffffff" stroke-width="0.70">Time/us</text>
<text transform="translate(1310.50,1151.20) scale(0.9371,1)" x="-2.48 28.30 52.70 79.93 113.47 147.23 174.46 206.67 232.49 262.33 278.79 325.08" y="0" font-size="58.09" font-weight="bold" fill="#1e1e1e" stroke="#ffffff" stroke-width="0.70">Frequency/Hz</text>
<text transform="translate(627.30,280.74) scale(0.9442,1)" x="-0.13 39.91 68.63 84.04 100.62 127.46 155.86 180.67 196.06 226.79" y="0" font-size="55.14" font-weight="bold" fill="#111111" stroke="#ffffff" stroke-width="0.70">Voltage/kV</text>
<text transform="translate(661.55,509.05) scale(0.9281,1)" x="-0.12 39.45 53.05 84.46 114.57 141.92 164.66 189.74 205.45" y="0" font-size="55.70" font-weight="bold" fill="#111111" stroke="#ffffff" stroke-width="0.70">A phase/v</text>
<text transform="translate(668.00,737.97) scale(0.9155,1)" x="-1.23 34.10 47.91 79.57 109.91 137.45 160.39 185.62 201.53" y="0" font-size="55.51" font-weight="bold" fill="#111111" stroke="#ffffff" stroke-width="0.70">B phase/v</text>
<text transform="translate(663.55,967.09) scale(0.9260,1)" x="-1.32 36.86 50.64 82.21 112.47 139.93 162.81 187.96 203.84" y="0" font-size="55.31" font-weight="bold" fill="#111111" stroke="#ffffff" stroke-width="0.70">C phase/v</text>
<text transform="translate(1187.35,280.74) scale(0.9331,1)" x="0.07 40.44 69.40 84.97 101.76 128.87 157.54 182.55 198.17 227.92" y="0" font-size="55.14" font-weight="bold" fill="#111111" stroke="#ffffff" stroke-width="0.70">Voltage/dB</text>
<text transform="translate(1187.95,509.05) scale(0.9139,1)" x="0.12 39.99 53.85 85.63 116.08 143.71 166.73 192.05 207.88 238.02" y="0" font-size="55.70" font-weight="bold" fill="#111111" stroke="#ffffff" stroke-width="0.70">A phase/dB</text>
<text transform="translate(1190.20,737.97) scale(0.9009,1)" x="-1.05 34.52 48.56 80.54 111.18 138.97 162.16 187.60 203.61 233.99" y="0" font-size="55.51" font-weight="bold" fill="#111111" stroke="#ffffff" stroke-width="0.70">B phase/dB</text>
<text transform="translate(1188.05,967.09) scale(0.9125,1)" x="-1.13 37.29 51.30 83.18 113.73 141.43 164.55 189.91 205.89 236.17" y="0" font-size="55.31" font-weight="bold" fill="#111111" stroke="#ffffff" stroke-width="0.70">C phase/dB</text>
<text transform="translate(57.70,711.10) rotate(-90) translate(-0.50,0.40) scale(0.9817,1)" x="-0.38 40.19 87.55 120.35 137.83 153.72 172.08 204.16 236.56" y="0" font-size="57.61" font-weight="bold" fill="#1e1e1e" stroke="#ffffff" stroke-width="0.70">Amplitude</text>
<text transform="translate(989.00,708.40) rotate(-90) translate(-0.50,0.40) scale(0.9730,1)" x="-0.38 40.37 87.92 120.86 138.42 154.38 172.82 205.03 237.57" y="0" font-size="57.85" font-weight="bold" fill="#1e1e1e" stroke="#ffffff" stroke-width="0.70">Amplitude</text>
</g>
</svg>
</body>
</html>
